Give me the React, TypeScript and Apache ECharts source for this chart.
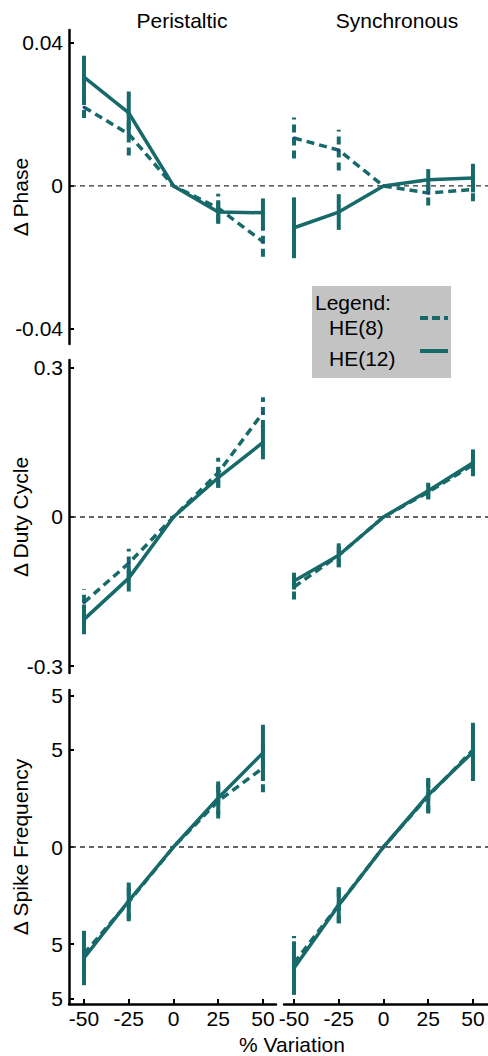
import React, { useEffect, useRef } from "react";
import * as echarts from "echarts";

const xValues = [-50, -25, 0, 25, 50];
const colTitles = ["Peristaltic", "Synchronous"];
const rowNames = ["Δ Phase", "Δ Duty Cycle", "Δ Spike Frequency"];
const xAxisTitle = "% Variation";
const seriesNames = ["HE(8)", "HE(12)"];

// Δ Phase
const phasePerHE8 = [0.022, 0.0145, 0, -0.0062, -0.0156];
const phasePerHE8Err = [0.003, 0.006, 0, 0.004, 0.0042];
const phasePerHE12 = [0.0304, 0.0204, 0, -0.0073, -0.0075];
const phasePerHE12Err = [0.006, 0.006, 0, 0.0033, 0.004];
const phaseSynHE8 = [0.0134, 0.01, 0, -0.002, -0.001];
const phaseSynHE8Err = [0.0057, 0.0057, 0, 0.0035, 0.0033];
const phaseSynHE12 = [-0.0117, -0.0073, 0, 0.0017, 0.0022];
const phaseSynHE12Err = [0.0085, 0.005, 0, 0.003, 0.004];

// Δ Duty Cycle
const dutyPerHE8 = [-0.172, -0.093, 0, 0.089, 0.21];
const dutyPerHE8Err = [0.027, 0.029, 0, 0.03, 0.031];
const dutyPerHE12 = [-0.206, -0.123, 0, 0.079, 0.15];
const dutyPerHE12Err = [0.03, 0.027, 0, 0.02, 0.034];
const dutySynHE8 = [-0.141, -0.077, 0, 0.05, 0.105];
const dutySynHE8Err = [0.025, 0.024, 0, 0.015, 0.022];
const dutySynHE12 = [-0.129, -0.077, 0, 0.053, 0.109];
const dutySynHE12Err = [0.017, 0.024, 0, 0.016, 0.027];

// Δ Spike Frequency
const spikePerHE8 = [-5.5, -2.83, 0, 2.37, 4.07];
const spikePerHE8Err = [1.3, 1.0, 0, 0.9, 1.25];
const spikePerHE12 = [-5.72, -2.78, 0, 2.53, 4.85];
const spikePerHE12Err = [1.4, 0.95, 0, 0.85, 1.45];
const spikeSynHE8 = [-5.98, -2.98, 0, 2.63, 5.0];
const spikeSynHE8Err = [1.4, 0.95, 0, 0.9, 1.35];
const spikeSynHE12 = [-6.24, -3.0, 0, 2.68, 4.9];
const spikeSynHE12Err = [1.38, 0.93, 0, 0.88, 1.5];

// tick values and labels
const phaseTicks = [-0.04, 0, 0.04];
const phaseTickLabels = ["-0.04", "0", "0.04"];
const dutyTicks = [-0.3, 0, 0.3];
const dutyTickLabels = ["-0.3", "0", "0.3"];
const spikeTicks = [-7.8, -5, 0, 5, 7.8];
const spikeTickLabels = ["5", "5", "0", "5", "5"];
const xTicks = [-50, -25, 0, 25, 50];
const xTickLabels = ["-50", "-25", "0", "25", "50"];

const TEAL = "#17696a";
const FONT = "Liberation Sans, Arial, Helvetica, sans-serif";
const FS = 21;

const rows = [
  {
    name: rowNames[0],
    min: -0.0442,
    max: 0.0436,
    ticks: phaseTicks,
    labels: phaseTickLabels,
    data: [
      [[phasePerHE8, phasePerHE8Err], [phasePerHE12, phasePerHE12Err]],
      [[phaseSynHE8, phaseSynHE8Err], [phaseSynHE12, phaseSynHE12Err]],
    ],
  },
  {
    name: rowNames[1],
    min: -0.314,
    max: 0.316,
    ticks: dutyTicks,
    labels: dutyTickLabels,
    data: [
      [[dutyPerHE8, dutyPerHE8Err], [dutyPerHE12, dutyPerHE12Err]],
      [[dutySynHE8, dutySynHE8Err], [dutySynHE12, dutySynHE12Err]],
    ],
  },
  {
    name: rowNames[2],
    min: -8.09,
    max: 8.09,
    ticks: spikeTicks,
    labels: spikeTickLabels,
    data: [
      [[spikePerHE8, spikePerHE8Err], [spikePerHE12, spikePerHE12Err]],
      [[spikeSynHE8, spikeSynHE8Err], [spikeSynHE12, spikeSynHE12Err]],
    ],
  },
];

const rowLayout = [
  { top: 30, height: 314, nameY: 197 },
  { top: 360, height: 313, nameY: 517 },
  { top: 690, height: 314, nameY: 847 },
];
const colLayout = [
  { left: 69, width: 207, xmin: -58.4, xmax: 57.3, titleX: 182 },
  { left: 284, width: 204, xmin: -55.6, xmax: 58.4, titleX: 397 },
];

export default function App() {
  const ref = useRef<HTMLDivElement>(null);

  useEffect(() => {
    document.body.style.margin = "0";
    if (!ref.current) return;
    const chart = echarts.init(ref.current, null, { renderer: "svg" });

    const grids: any[] = [];
    const xAxes: any[] = [];
    const yAxes: any[] = [];
    const series: any[] = [];

    rows.forEach((row, r) => {
      colLayout.forEach((col, c) => {
        const gi = r * 2 + c;
        grids.push({
          left: col.left,
          width: col.width,
          top: rowLayout[r].top,
          height: rowLayout[r].height,
          containLabel: false,
        });
        const isBottom = r === 2;
        xAxes.push({
          type: "value",
          gridIndex: gi,
          min: col.xmin,
          max: col.xmax,
          show: isBottom,
          splitLine: { show: false },
          axisLine: { show: true, onZero: false, lineStyle: { color: "#000", width: 2.5 } },
          axisTick: {
            show: true,
            inside: true,
            length: 5,
            customValues: xTicks,
            lineStyle: { color: "#000", width: 2 },
          },
          axisLabel: {
            show: true,
            customValues: xTicks,
            formatter: (v: number) => xTickLabels[xTicks.indexOf(v)] ?? String(v),
            fontSize: FS,
            fontFamily: FONT,
            color: "#000",
            margin: 4,
          },
        });
        yAxes.push({
          type: "value",
          gridIndex: gi,
          min: row.min,
          max: row.max,
          show: c === 0,
          splitLine: { show: false },
          axisLine: { show: true, onZero: false, lineStyle: { color: "#000", width: 2.5 } },
          axisTick: {
            show: true,
            inside: true,
            length: 5,
            customValues: row.ticks,
            lineStyle: { color: "#000", width: 2 },
          },
          axisLabel: {
            show: true,
            customValues: row.ticks,
            formatter: (v: number) => {
              let idx = -1;
              row.ticks.forEach((t, i) => {
                if (Math.abs(t - v) < 1e-9) idx = i;
              });
              return idx >= 0 ? row.labels[idx] : "";
            },
            fontSize: FS,
            fontFamily: FONT,
            color: "#000",
            margin: 6,
          },
        });

        row.data[c].forEach(([vals, errs], s) => {
          const dashed = s === 0;
          series.push({
            type: "line",
            name: seriesNames[s],
            xAxisIndex: gi,
            yAxisIndex: gi,
            data: xValues.map((x, i) => [x, vals[i]]),
            lineStyle: { color: TEAL, width: 3.5, type: dashed ? [8, 5] : "solid" },
            itemStyle: { color: dashed ? "#2d3f8f" : TEAL },
            symbol: "circle",
            symbolSize: 3,
            showSymbol: true,
            z: dashed ? 3 : 4,
          });
          series.push({
            type: "custom",
            name: seriesNames[s] + " err",
            xAxisIndex: gi,
            yAxisIndex: gi,
            data: xValues
              .map((x, i) => [x, vals[i] - errs[i], vals[i] + errs[i]])
              .filter((d, i) => errs[i] > 0),
            encode: { x: 0, y: [1, 2] },
            renderItem: (params: any, api: any) => {
              const x = api.value(0);
              const p1 = api.coord([x, api.value(1)]);
              const p2 = api.coord([x, api.value(2)]);
              return {
                type: "line",
                shape: { x1: p1[0], y1: p1[1], x2: p2[0], y2: p2[1] },
                style: {
                  stroke: TEAL,
                  lineWidth: 4,
                  lineDash: dashed ? [8, 5] : null,
                },
              };
            },
            z: dashed ? 3 : 4,
          });
        });
      });
    });

    chart.setOption({
      animation: false,
      grid: grids,
      xAxis: xAxes,
      yAxis: yAxes,
      series,
    });

    const textStyle = (text: string, align: string) => ({
      text,
      font: `${FS}px ${FONT}`,
      fill: "#000",
      align,
      textAlign: align,
      verticalAlign: "middle",
      textVerticalAlign: "middle",
    });

    const graphics: any[] = [];
    rows.forEach((row, r) => {
      const p = chart.convertToPixel({ gridIndex: r * 2 } as any, [0, 0]) as number[];
      graphics.push({
        type: "line",
        z: 1,
        shape: { x1: 71, y1: p[1], x2: 488, y2: p[1] },
        style: { stroke: "#333", lineWidth: 1.3, lineDash: [5, 4] },
      });
      graphics.push({
        type: "text",
        x: 20,
        y: rowLayout[r].nameY,
        rotation: Math.PI / 2,
        style: textStyle(row.name, "center"),
      });
    });
    colTitles.forEach((t, c) => {
      graphics.push({
        type: "text",
        x: colLayout[c].titleX,
        y: 20,
        style: textStyle(t, "center"),
      });
    });
    graphics.push({
      type: "text",
      x: 292,
      y: 1044,
      style: textStyle(xAxisTitle, "center"),
    });
    // legend box
    graphics.push({
      type: "group",
      x: 312,
      y: 286,
      z: 10,
      children: [
        { type: "rect", shape: { x: 0, y: 0, width: 139, height: 92 }, style: { fill: "#c3c3c3" } },
        { type: "text", x: 3, y: 16, style: textStyle("Legend:", "left") },
        { type: "text", x: 17, y: 41, style: textStyle(seriesNames[0], "left") },
        { type: "text", x: 17, y: 72, style: textStyle(seriesNames[1], "left") },
        {
          type: "line",
          shape: { x1: 108, y1: 32, x2: 136, y2: 32 },
          style: { stroke: TEAL, lineWidth: 4, lineDash: [8, 4] },
        },
        {
          type: "line",
          shape: { x1: 108, y1: 65, x2: 136, y2: 65 },
          style: { stroke: TEAL, lineWidth: 4 },
        },
      ],
    });

    chart.setOption({ graphic: graphics });

    return () => {
      chart.dispose();
    };
  }, []);

  return <div ref={ref} style={{ width: 488, height: 1056 }} />;
}
